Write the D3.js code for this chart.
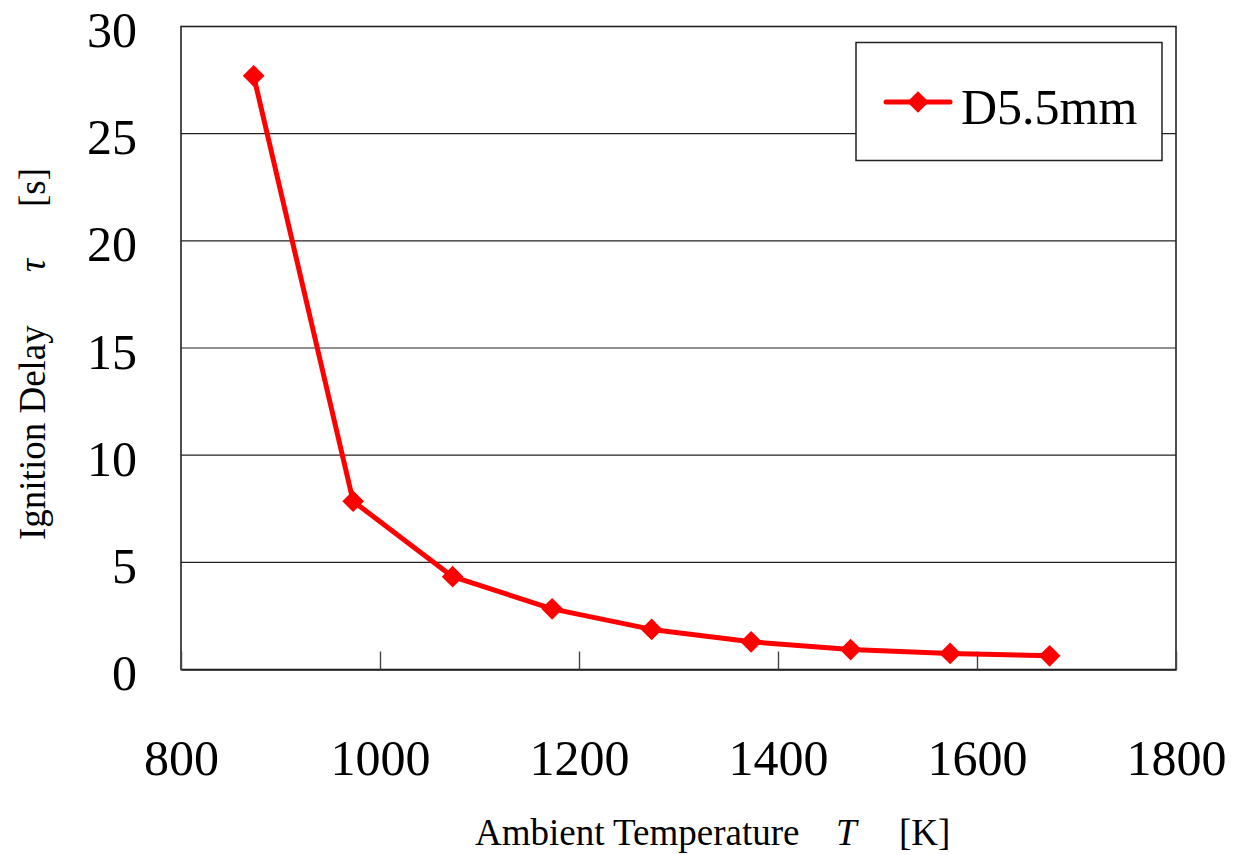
<!DOCTYPE html>
<html>
<head>
<meta charset="utf-8">
<script src="https://cdn.jsdelivr.net/npm/d3@7"></script>
<style>
  body { margin: 0; background: #fff; }
  text { font-family: "Liberation Serif", "Times New Roman", serif; fill: #000; }
</style>
</head>
<body>
<svg id="chart" width="1236" height="855"></svg>
<script>
// Data
const temperatures = [873, 973, 1073, 1173, 1273, 1373, 1473, 1573, 1673];
const delays = [27.7, 7.85, 4.33, 2.83, 1.87, 1.29, 0.93, 0.75, 0.64];
const seriesName = "D5.5mm";
const xTicks = [800, 1000, 1200, 1400, 1600, 1800];
const yTicks = [0, 5, 10, 15, 20, 25, 30];

const svg = d3.select("#chart");
const margin = { left: 181, right: 1176, top: 26.5, bottom: 669.5 };

const x = d3.scaleLinear().domain([800, 1800]).range([margin.left, margin.right]);
const y = d3.scaleLinear().domain([0, 30]).range([margin.bottom, margin.top]);

// Horizontal gridlines
svg.append("g")
    .selectAll("line")
    .data(yTicks.filter(d => d > 0 && d < 30))
    .join("line")
    .attr("x1", margin.left).attr("x2", margin.right)
    .attr("y1", d => y(d)).attr("y2", d => y(d))
    .attr("stroke", "#222").attr("stroke-width", 1.2);

// Plot frame
svg.append("rect")
    .attr("x", margin.left).attr("y", margin.top)
    .attr("width", margin.right - margin.left)
    .attr("height", margin.bottom - margin.top)
    .attr("fill", "none").attr("stroke", "#222").attr("stroke-width", 1.6);

// X axis: inward ticks, big labels far below
const xAxis = d3.axisBottom(x).tickValues(xTicks).tickFormat(d3.format("d"))
    .tickSizeInner(-18).tickSizeOuter(0).tickPadding(70);
const gx = svg.append("g").attr("transform", `translate(0,${margin.bottom})`).call(xAxis);
gx.select(".domain").attr("stroke", "#222").attr("stroke-width", 1.6);
gx.selectAll(".tick line").attr("stroke", "#444").attr("stroke-width", 1.4);
gx.selectAll(".tick text").attr("font-size", 50).attr("font-family", "Liberation Serif").attr("fill", "#000");

// Y axis labels
const yAxis = d3.axisLeft(y).tickValues(yTicks).tickSize(0).tickPadding(44);
const gy = svg.append("g").attr("transform", `translate(${margin.left},0)`).call(yAxis);
gy.select(".domain").remove();
gy.selectAll(".tick text").attr("font-size", 50).attr("font-family", "Liberation Serif")
    .attr("fill", "#000").attr("dy", "0.4em");

// Series line and markers
const line = d3.line().x((d, i) => x(temperatures[i])).y(d => y(d));
svg.append("path")
    .datum(delays)
    .attr("d", line)
    .attr("fill", "none").attr("stroke", "#ff0000").attr("stroke-width", 5)
    .attr("stroke-linejoin", "round");

const diamond = d3.symbol().type(d3.symbolDiamond2).size(300);
svg.append("g")
    .selectAll("path")
    .data(delays)
    .join("path")
    .attr("d", diamond)
    .attr("transform", (d, i) => `translate(${x(temperatures[i])},${y(d)})`)
    .attr("fill", "#ff0000");

// Legend
const lg = svg.append("g");
lg.append("rect")
    .attr("x", 856).attr("y", 42.5).attr("width", 306).attr("height", 118)
    .attr("fill", "#fff").attr("stroke", "#222").attr("stroke-width", 1.5);
lg.append("line")
    .attr("x1", 886).attr("x2", 950).attr("y1", 102).attr("y2", 102)
    .attr("stroke", "#ff0000").attr("stroke-width", 5).attr("stroke-linecap", "round");
lg.append("path")
    .attr("d", diamond)
    .attr("transform", "translate(918,102)")
    .attr("fill", "#ff0000");
lg.append("text")
    .attr("x", 961).attr("y", 124)
    .attr("font-size", 50)
    .text(seriesName);

// Axis titles
const xt = svg.append("text")
    .attr("x", 475).attr("y", 845)
    .attr("font-size", 37);
xt.append("tspan").text("Ambient Temperature");
xt.append("tspan").attr("x", 836).attr("font-style", "italic").text("T");
xt.append("tspan").attr("x", 899).text("[K]");

const yt = svg.append("text")
    .attr("transform", "translate(45,0) rotate(-90)")
    .attr("font-size", 37);
yt.append("tspan").attr("x", -540).text("Ignition Delay");
yt.append("tspan").attr("x", -272).attr("font-style", "italic").text("τ");
yt.append("tspan").attr("x", -207).text("[s]");
</script>
</body>
</html>
